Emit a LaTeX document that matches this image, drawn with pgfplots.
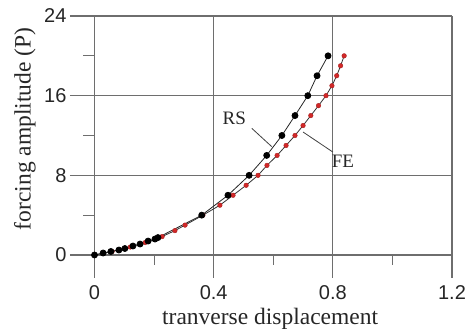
\documentclass[border=0pt]{standalone}
\usepackage{fontspec}
\setmainfont{Liberation Serif}
\setsansfont{Liberation Sans}
\usepackage{pgfplots}
\pgfplotsset{compat=1.18}
\definecolor{gridgray}{RGB}{110,110,110}
\definecolor{fered}{RGB}{210,40,40}
\begin{document}
\begin{tikzpicture}
\useasboundingbox (-70pt,-53pt) rectangle (396pt,278pt);
\begin{axis}[
  at={(0,0)}, anchor=south west,
  scale only axis, width=382pt, height=262pt,
  xmin=-0.0822, xmax=1.2, ymin=-2.31, ymax=24,
  axis line style={draw=none},
  xtick={0,0.4,0.8,1.2}, ytick={0,8,16,24},
  major tick length=0pt,
  grid=major,
  grid style={gridgray, line width=1.1pt, solid},
  tick label style={font=\fontsize{20}{20}\selectfont\sffamily, text=black!85},
  /pgf/number format/assume math mode=true,
  xticklabel style={yshift=-4pt},
  xlabel={tranverse displacement},
  ylabel={forcing amplitude (P)},
  xlabel style={at={(axis description cs:0.524,-0.156)}, anchor=center, font=\fontsize{23.5}{24}\selectfont, text=black!85},
  ylabel style={at={(axis description cs:-0.118,0.569)}, anchor=center, rotate=0, font=\fontsize{23.5}{24}\selectfont, text=black!85},
  clip=false,
]
% minor ticks
\draw[gridgray, line width=1.1pt] (axis cs:0.2,0) -- ++(0pt,-10pt);
\draw[gridgray, line width=1.1pt] (axis cs:0.6,0) -- ++(0pt,-10pt);
\draw[gridgray, line width=1.1pt] (axis cs:1.0,0) -- ++(0pt,-10pt);
\draw[gridgray, line width=1.1pt] (axis cs:0,4) -- ++(-11pt,0pt);
\draw[gridgray, line width=1.1pt] (axis cs:0,12) -- ++(-11pt,0pt);
\draw[gridgray, line width=1.1pt] (axis cs:0,20) -- ++(-11pt,0pt);
% FE
\addplot[line width=0.8pt, color=black!80, mark=*, mark size=2.3pt,
  mark options={fill=fered, draw=fered!80!black, line width=0.4pt}] table {
x y
0 0
0.059 0.35
0.120 0.8
0.170 1.25
0.227 1.85
0.270 2.45
0.304 3.0
0.364 4.0
0.421 5.0
0.465 6.0
0.509 7.0
0.549 8.0
0.579 9.0
0.613 10.0
0.643 11.0
0.673 12.0
0.700 13.0
0.726 14.0
0.752 15.0
0.777 16.0
0.797 17.0
0.813 18.0
0.826 19.0
0.838 20.0
};
% RS
\addplot[line width=0.8pt, color=black!85, mark=*, mark size=3.0pt,
  mark options={fill=black, draw=black}] table {
x y
0 0
0.029 0.2
0.055 0.35
0.082 0.5
0.102 0.65
0.129 0.9
0.153 1.1
0.180 1.4
0.203 1.6
0.213 1.75
0.360 4.0
0.448 6.0
0.519 8.0
0.578 10.0
0.629 12.0
0.673 14.0
0.716 16.0
0.747 18.0
0.784 20.0
};
\node[font=\fontsize{19}{19}\selectfont, text=black!85] at (axis cs:0.469,13.7) {RS};
\draw[black!75, line width=0.8pt] (axis cs:0.528,12.72) -- (axis cs:0.595,10.88);
\node[font=\fontsize{19}{19}\selectfont, text=black!85] at (axis cs:0.834,9.4) {FE};
\draw[black!75, line width=0.8pt] (axis cs:0.700,12.35) -- (axis cs:0.800,10.34);
\end{axis}
\end{tikzpicture}
\end{document}
